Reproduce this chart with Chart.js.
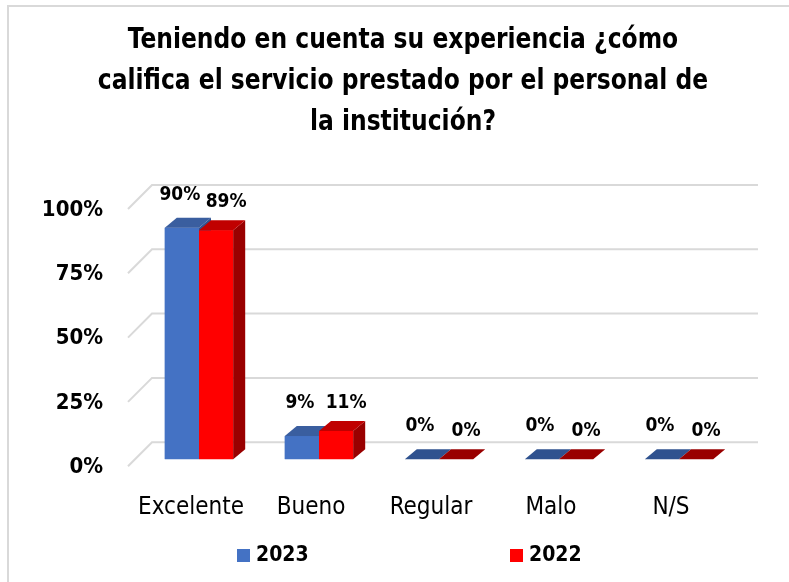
<!DOCTYPE html>
<html>
<head>
<meta charset="utf-8">
<script src="https://cdn.jsdelivr.net/npm/chart.js@4"></script>
<style>
  html, body { margin:0; padding:0; background:#fff; }
  #wrap { width:789px; height:582px; position:relative; }
</style>
</head>
<body>
<div id="wrap"><canvas id="chart"></canvas></div>
<script>
const categories = ["Excelente", "Bueno", "Regular", "Malo", "N/S"]
const values2023 = [90, 9, 0, 0, 0]
const values2022 = [89, 11, 0, 0, 0]
const seriesNames = ["2023", "2022"]
const yTicks = [0, 25, 50, 75, 100]
const titleLines = [
  "Teniendo en cuenta su experiencia ¿cómo",
  "califica el servicio prestado por el personal de",
  "la institución?"
]

const FONT = '"Liberation Sans Narrow", "DejaVu Sans Condensed", "Open Sans", sans-serif'

// front / top / side shades for the 3d look
const colors = [
  { front:"#4472C4", top:"#3A5E9F", side:"#2F528F" },
  { front:"#FF0000", top:"#C00000", side:"#990000" }
]

const DX = 12, DY = 10   // bar depth

const frame = {
  id:"frame",
  beforeDraw(chart){
    const ctx = chart.ctx
    ctx.save()
    ctx.fillStyle = "#fff"
    ctx.fillRect(0, 0, chart.width, chart.height)
    ctx.strokeStyle = "#d9d9d9"
    ctx.lineWidth = 2
    ctx.beginPath()
    ctx.moveTo(8, chart.height)
    ctx.lineTo(8, 6)
    ctx.lineTo(chart.width, 6)
    ctx.stroke()

    // title, squeezed a little like the original
    ctx.fillStyle = "#000"
    ctx.font = "bold 28px " + FONT
    ctx.textAlign = "center"
    ctx.textBaseline = "alphabetic"
    titleLines.forEach((line, i) => {
      ctx.save()
      ctx.translate(403, 48 + i * 41)
      ctx.scale(0.93, 1)
      ctx.fillText(line, 0, 0)
      ctx.restore()
    })
    ctx.restore()
  }
}

// back wall gridlines + left wall slants
const wall = {
  id:"wall",
  beforeDatasetsDraw(chart){
    const ctx = chart.ctx
    const a = chart.chartArea
    const y = chart.scales.y
    ctx.save()
    ctx.strokeStyle = "#d9d9d9"
    ctx.lineWidth = 2
    yTicks.forEach(v => {
      const py = y.getPixelForValue(v)
      const back = py - 17
      ctx.beginPath()
      ctx.moveTo(a.left - 11, py + 7)
      ctx.lineTo(a.left + 13, back)
      ctx.lineTo(a.right + 19, back)
      ctx.stroke()
    })
    ctx.restore()
  }
}

const bars3d = {
  id:"bars3d",
  afterDatasetsDraw(chart){
    const ctx = chart.ctx
    const n = categories.length
    ctx.save()
    for(let i = 0; i < n; i++){
      chart.data.datasets.forEach((ds, d) => {
        const el = chart.getDatasetMeta(d).data[i]
        const c = colors[d]
        const l = el.x - el.width/2, r = el.x + el.width/2
        const t = el.y, b = el.base
        if(b - t > 0.5){
          ctx.fillStyle = c.front
          ctx.fillRect(l, t, r - l, b - t)
          ctx.fillStyle = c.side
          ctx.beginPath()
          ctx.moveTo(r, t); ctx.lineTo(r + DX, t - DY)
          ctx.lineTo(r + DX, b - DY); ctx.lineTo(r, b)
          ctx.closePath(); ctx.fill()
        }
        ctx.fillStyle = b - t > 0.5 ? c.top : c.side
        ctx.beginPath()
        ctx.moveTo(l, t); ctx.lineTo(r, t)
        ctx.lineTo(r + DX, t - DY); ctx.lineTo(l + DX, t - DY)
        ctx.closePath(); ctx.fill()
      })
    }
    ctx.restore()
  },
  afterDraw(chart){
    // value labels
    const ctx = chart.ctx
    const shift = [[-2, 33], [10, 28]]
    ctx.save()
    ctx.font = "bold 19px " + FONT
    ctx.fillStyle = "#000"
    ctx.textAlign = "center"
    ctx.textBaseline = "middle"
    chart.data.datasets.forEach((ds, d) => {
      chart.getDatasetMeta(d).data.forEach((el, i) => {
        ctx.fillText(ds.data[i] + "%", el.x + shift[d][0], el.y - shift[d][1])
      })
    })
    // legend
    const pos = [237, 510]
    ctx.font = "bold 21px " + FONT
    ctx.textAlign = "left"
    chart.data.datasets.forEach((ds, d) => {
      ctx.fillStyle = colors[d].front
      ctx.fillRect(pos[d], 549, 13, 13)
      ctx.fillStyle = "#000"
      ctx.fillText(ds.label, pos[d] + 19, 556)
    })
    ctx.restore()
  }
}

new Chart(document.getElementById("chart"), {
  type:"bar",
  data:{
    labels:categories,
    datasets:[
      { label:seriesNames[0], data:values2023, backgroundColor:colors[0].front },
      { label:seriesNames[1], data:values2022, backgroundColor:colors[1].front }
    ]
  },
  options:{
    responsive:true,
    maintainAspectRatio:false,
    animation:false,
    devicePixelRatio:1,
    categoryPercentage:0.57,
    barPercentage:1,
    layout:{ padding:{ top:202, right:50, bottom:26, left:0 } },
    plugins:{
      legend:{ display:false },
      tooltip:{ enabled:false },
      title:{ display:false }
    },
    scales:{
      x:{
        grid:{ display:false, drawTicks:false },
        border:{ display:false },
        ticks:{
          color:"#000",
          padding:34,
          labelOffset:-8,
          font:{ family:FONT, size:24 }
        }
      },
      y:{
        min:0, max:100,
        afterFit(s){ s.width = 139 },
        grid:{ display:false, drawTicks:false },
        border:{ display:false },
        ticks:{
          stepSize:25,
          padding:36,
          labelOffset:8,
          color:"#000",
          font:{ family:FONT, size:22, weight:"bold" },
          callback:v => v + "%"
        }
      }
    }
  },
  plugins:[frame, wall, bars3d]
})
</script>
</body>
</html>
